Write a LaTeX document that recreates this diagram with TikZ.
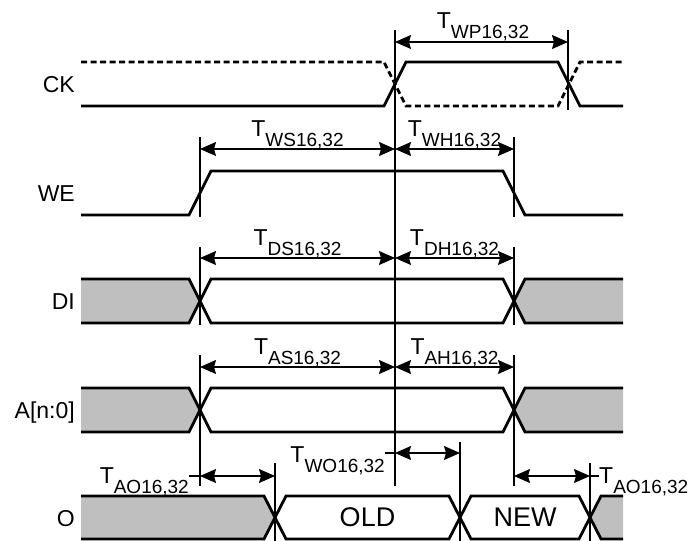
\documentclass[tikz,border=0pt]{standalone}
\usepackage{fontspec}
\setmainfont{Liberation Sans}
\usetikzlibrary{arrows.meta}
\newcommand{\tsub}[1]{T\raisebox{-10pt}{\fontsize{19}{19}\selectfont #1}}
\tikzset{
  sig/.style     = {line width=2.8pt},
  clkalt/.style  = {sig, dash pattern=on 6pt off 3.5pt},
  busfill/.style = {fill=black!25, draw=none},
  guide/.style   = {line width=1.1pt},
  dim/.style     = {{Stealth[length=16pt,width=14pt,inset=2pt]}-{Stealth[length=16pt,width=14pt,inset=2pt]},
                    line width=1.2pt},
  lbl/.style     = {font=\fontsize{23}{23}\selectfont, inner sep=0pt},
  val/.style     = {font=\fontsize{27}{27}\selectfont, inner sep=0pt},
}

\begin{document}
\begin{tikzpicture}[x=1pt,y=-1pt]
  \useasboundingbox (0,0) rectangle (691,541);
  % columns and heights of the dimension lines
  \coordinate (xA) at (200,0);  \coordinate (xM) at (395,0);
  \coordinate (xB) at (514,0);  \coordinate (xC) at (568,0);
  \coordinate (xO1) at (275,0); \coordinate (xO2) at (460,0); \coordinate (xO3) at (590,0);
  \coordinate (yWP) at (0,42);  \coordinate (yWS) at (0,149);
  \coordinate (yDS) at (0,258); \coordinate (yAS) at (0,367);
  \coordinate (yWO) at (0,453); \coordinate (yAO) at (0,476);

  % signal names
  \node[lbl, anchor=base east] (nCK) at (75,92)  {CK};
  \node[lbl, anchor=base east] (nWE) at (75,201) {WE};
  \node[lbl, anchor=base east] (nDI) at (75,309) {DI};
  \node[lbl, anchor=base east] (nA)  at (75,418) {A[n:0]};
  \node[lbl, anchor=base east] (nO)  at (75,526) {O};

  % CK
  \draw[clkalt] (81,62) -- (384,62) -- (406,106) -- (558,106) -- (580,62) -- (623,62);
  \draw[sig] (81,106) -- (384,106) -- (406,62) -- (558,62) -- (580,106) -- (623,106);
  % WE
  \draw[sig] (81,215) -- (189,215) -- (211,171) -- (503,171) -- (525,215) -- (623,215);
  % DI, A[n:0]
  \foreach \hi/\lo in {279/323, 388/432} {
    \pgfmathsetmacro\md{(\hi+\lo)/2}
    \fill[busfill] (81,\hi) -- (189,\hi) -- (200,\md) -- (189,\lo) -- (81,\lo) -- cycle;
    \fill[busfill] (623,\hi) -- (525,\hi) -- (514,\md) -- (525,\lo) -- (623,\lo) -- cycle;
    \draw[sig] (81,\hi) -- (189,\hi) -- (211,\lo) -- (503,\lo) -- (525,\hi) -- (623,\hi);
    \draw[sig] (81,\lo) -- (189,\lo) -- (211,\hi) -- (503,\hi) -- (525,\lo) -- (623,\lo);
  }
  % O
  \fill[busfill] (81,496) -- (264,496) -- (275,517.5) -- (264,539) -- (81,539) -- cycle;
  \fill[busfill] (623,496) -- (601,496) -- (590,517.5) -- (601,539) -- (623,539) -- cycle;
  \draw[sig] (81,496) -- (264,496) -- (286,539) -- (449,539) -- (471,496) -- (579,496) -- (601,539) -- (623,539);
  \draw[sig] (81,539) -- (264,539) -- (286,496) -- (449,496) -- (471,539) -- (579,539) -- (601,496) -- (623,496);
  \node[val, anchor=base] (vOld) at (367.5,526) {OLD};
  \node[val, anchor=base] (vNew) at (525,526) {NEW};

  % guide lines
  \draw[guide] (395,30) -- (395,486);
  \draw[guide] (568,30) -- (568,110);
  \foreach \x in {200,514} {
    \draw[guide] (\x,137) -- (\x,217);
    \draw[guide] (\x,247) -- (\x,325);
    \draw[guide] (\x,355) -- (\x,486);
  }
  \draw[guide] (275,463) -- (275,541);
  \draw[guide] (460,442) -- (460,541);
  \draw[guide] (590,463) -- (590,541);

  % timing labels
  \node[lbl, anchor=base] (tWP) at (483,28)    {\tsub{WP16,32}};
  \node[lbl, anchor=base] (tWS) at (297.5,136) {\tsub{WS16,32}};
  \node[lbl, anchor=base] (tWH) at (454.5,136) {\tsub{WH16,32}};
  \node[lbl, anchor=base] (tDS) at (297.5,245) {\tsub{DS16,32}};
  \node[lbl, anchor=base] (tDH) at (454.5,245) {\tsub{DH16,32}};
  \node[lbl, anchor=base] (tAS) at (297.5,354) {\tsub{AS16,32}};
  \node[lbl, anchor=base] (tAH) at (454.5,354) {\tsub{AH16,32}};
  \node[lbl, anchor=base east] (tWO)  at (385,462) {\tsub{WO16,32}};
  \node[lbl, anchor=base east] (tAOl) at (189,483) {\tsub{AO16,32}};
  \node[lbl, anchor=base west] (tAOr) at (599,483) {\tsub{AO16,32}};

  % dimension arrows
  \draw[dim] (xM |- yWP) -- (xC |- yWP);
  \draw[dim] (xA |- yWS) -- (xM |- yWS);
  \draw[dim] (xM |- yWS) -- (xB |- yWS);
  \draw[dim] (xA |- yDS) -- (xM |- yDS);
  \draw[dim] (xM |- yDS) -- (xB |- yDS);
  \draw[dim] (xA |- yAS) -- (xM |- yAS);
  \draw[dim] (xM |- yAS) -- (xB |- yAS);
  \draw[dim] (xM |- yWO) -- (xO2 |- yWO);
  \draw[dim] (xA |- yAO) -- (xO1 |- yAO);
  \draw[dim] (xB |- yAO) -- (xO3 |- yAO);
  \draw[guide] (tWO.east |- yWO) -- (xM |- yWO);
  \draw[guide] (tAOl.east |- yAO) -- (xA |- yAO);
  \draw[guide] (xO3 |- yAO) -- (tAOr.west |- yAO);
\end{tikzpicture}
\end{document}
